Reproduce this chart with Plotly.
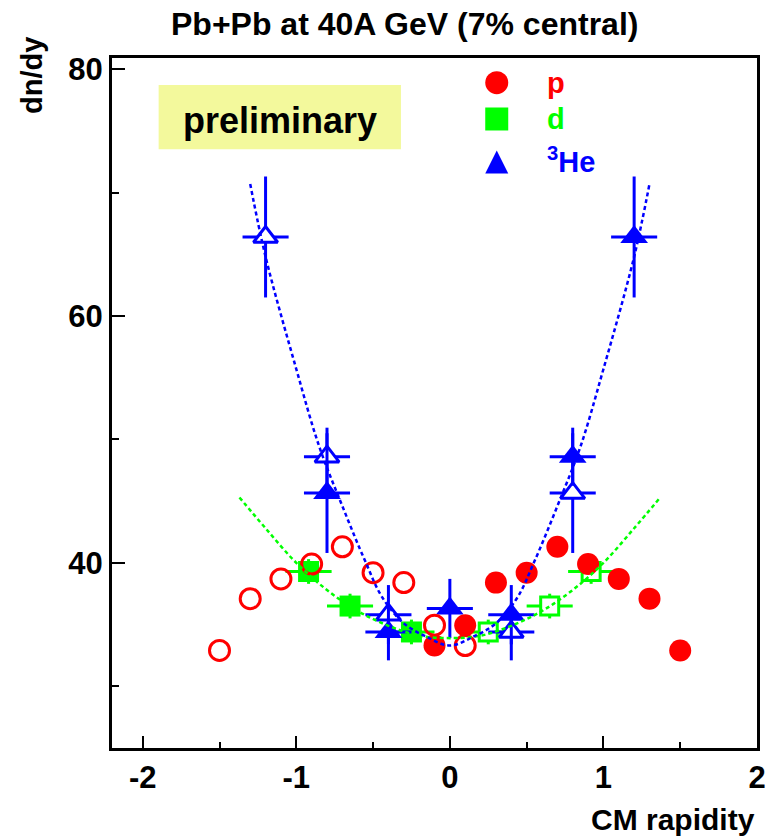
import plotly.graph_objects as go

# ---------------- data ----------------
# protons: measured (filled) and reflected (open)
p_x = [-0.1, 0.1, 0.3, 0.5, 0.7, 0.9, 1.1, 1.3, 1.5]
p_y = [33.3, 34.95, 38.4, 39.2, 41.3, 39.9, 38.7, 37.1, 32.9]
p_open_x = [0.1, -0.1, -0.3, -0.5, -0.7, -0.9, -1.1, -1.3, -1.5]
p_open_y = [33.3, 34.95, 38.4, 39.2, 41.3, 39.9, 38.7, 37.1, 32.9]

# deuterons
d_x = [-0.92, -0.65, -0.25]
d_y = [39.3, 36.5, 34.4]
d_yerr = [1.0, 1.0, 1.0]
d_xerr = [0.15, 0.15, 0.15]
d_open_x = [0.92, 0.65, 0.25]
d_open_y = [39.3, 36.5, 34.4]

# 3He
he_x = [-0.8, -0.4, 0.0, 0.4, 0.8, 1.2]
he_y = [45.65, 34.4, 36.3, 35.8, 48.6, 66.4]
he_yerr = [4.85, 2.3, 2.4, 2.4, 2.35, 4.9]
he_xerr = [0.15, 0.15, 0.15, 0.15, 0.15, 0.15]
he_open_x = [0.8, 0.4, -0.4, -0.8, -1.2]
he_open_y = [45.65, 34.4, 35.8, 48.6, 66.4]
he_open_yerr = [4.85, 2.3, 2.4, 2.35, 4.9]
he_open_xerr = [0.15, 0.15, 0.15, 0.15, 0.15]

# fit curves
dfit_x = [-1.37, -1.2, -1.0, -0.8, -0.6, -0.4, -0.2, 0.0, 0.2, 0.4, 0.6, 0.8, 1.0, 1.2, 1.37]
dfit_y = [45.3, 42.8, 40.0, 37.8, 36.1, 34.9, 34.1, 33.9, 34.1, 34.9, 36.1, 37.8, 40.0, 42.8, 45.3]
hefit_x = [-1.3, -1.2, -1.0, -0.85, -0.7, -0.55, -0.44, -0.3, -0.15, 0.0,
           0.15, 0.3, 0.44, 0.55, 0.7, 0.85, 1.0, 1.2, 1.3]
hefit_y = [70.7, 64.8, 55.7, 49.4, 44.6, 40.1, 37.2, 35.1, 34.0, 33.3,
           34.0, 35.1, 37.2, 40.1, 44.6, 49.4, 55.7, 64.8, 70.7]

x_ticks = [-2, -1, 0, 1, 2]
y_ticks = [40, 60, 80]

RED = "#ff0000"
GREEN = "#00ff00"
BLUE = "#0000ff"
FONT = "Liberation Sans, Arial, sans-serif"

fig = go.Figure()

# deuterons
fig.add_trace(go.Scatter(
    x=d_open_x, y=d_open_y, mode="markers",
    error_y=dict(type="data", array=d_yerr, color=GREEN, thickness=3, width=0),
    error_x=dict(type="data", array=d_xerr, color=GREEN, thickness=3, width=0),
    marker=dict(symbol="square", size=18, color="white", line=dict(color=GREEN, width=3)),
    showlegend=False, hoverinfo="skip"))
fig.add_trace(go.Scatter(
    x=d_x, y=d_y, mode="markers",
    error_y=dict(type="data", array=d_yerr, color=GREEN, thickness=3, width=0),
    error_x=dict(type="data", array=d_xerr, color=GREEN, thickness=3, width=0),
    marker=dict(symbol="square", size=21, color=GREEN),
    showlegend=False, hoverinfo="skip"))

# 3He
fig.add_trace(go.Scatter(
    x=he_open_x, y=he_open_y, mode="markers",
    error_y=dict(type="data", array=he_open_yerr, color=BLUE, thickness=3, width=0),
    error_x=dict(type="data", array=he_open_xerr, color=BLUE, thickness=3, width=0),
    marker=dict(symbol="triangle-up", size=21, color="white", line=dict(color=BLUE, width=3)),
    showlegend=False, hoverinfo="skip"))
fig.add_trace(go.Scatter(
    x=he_x, y=he_y, mode="markers",
    error_y=dict(type="data", array=he_yerr, color=BLUE, thickness=3, width=0),
    error_x=dict(type="data", array=he_xerr, color=BLUE, thickness=3, width=0),
    marker=dict(symbol="triangle-up", size=24, color=BLUE),
    showlegend=False, hoverinfo="skip"))

# protons
fig.add_trace(go.Scatter(
    x=p_open_x, y=p_open_y, mode="markers",
    marker=dict(symbol="circle-open", size=20, color=RED, line=dict(color=RED, width=3)),
    showlegend=False, hoverinfo="skip"))
fig.add_trace(go.Scatter(
    x=p_x, y=p_y, mode="markers",
    marker=dict(symbol="circle", size=22, color=RED),
    showlegend=False, hoverinfo="skip"))

# fits
fig.add_trace(go.Scatter(
    x=dfit_x, y=dfit_y, mode="lines", line=dict(color=GREEN, width=2.5, dash="4px,3px", shape="spline"),
    showlegend=False, hoverinfo="skip"))
fig.add_trace(go.Scatter(
    x=hefit_x, y=hefit_y, mode="lines", line=dict(color=BLUE, width=2.5, dash="4px,3px", shape="spline"),
    showlegend=False, hoverinfo="skip"))

axis_common = dict(
    showline=True, linecolor="black", linewidth=3, mirror=True,
    ticks="inside", tickcolor="black", tickwidth=2,
    showgrid=False, zeroline=False,
    tickfont=dict(family=FONT, size=31, color="black", weight="bold"),
)

fig.update_xaxes(range=[-2.2, 2.0], tickvals=x_ticks, ticktext=[str(v) for v in x_ticks],
                 ticklen=12,
                 minor=dict(ticks="inside", dtick=0.5, ticklen=6, tickwidth=2, tickcolor="black"),
                 **axis_common)
fig.update_yaxes(range=[25, 80.9], tickvals=y_ticks, ticktext=[str(v) for v in y_ticks],
                 ticklen=13,
                 minor=dict(ticks="inside", dtick=10, ticklen=7, tickwidth=2, tickcolor="black"),
                 **axis_common)

shapes = [
    dict(type="rect", xref="paper", yref="paper", x0=0.0723, x1=0.448, y0=0.8677, y1=0.961,
         fillcolor="#f3f99c", line=dict(width=0), layer="below"),
    # legend symbols
    dict(type="circle", xref="paper", yref="paper", xsizemode="pixel", ysizemode="pixel",
         xanchor=0.5965, yanchor=0.9642, x0=-11.5, x1=11.5, y0=-11.5, y1=11.5,
         fillcolor=RED, line=dict(width=0)),
    dict(type="rect", xref="paper", yref="paper", xsizemode="pixel", ysizemode="pixel",
         xanchor=0.5965, yanchor=0.9116, x0=-11.5, x1=11.5, y0=-11.5, y1=11.5,
         fillcolor=GREEN, line=dict(width=0)),
    dict(type="path", xref="paper", yref="paper", xsizemode="pixel", ysizemode="pixel",
         xanchor=0.5965, yanchor=0.8493, path="M -11.5 -11.5 L 11.5 -11.5 L 0 11.5 Z",
         fillcolor=BLUE, line=dict(width=0)),
]

def ann(text, x, y, size, color="black", xanchor="center", yanchor="middle", angle=0, xref="paper"):
    return dict(text=text, x=x, y=y, xref=xref, yref="paper", showarrow=False,
                xanchor=xanchor, yanchor=yanchor, textangle=angle,
                font=dict(family=FONT, size=size, color=color, weight="bold"))

annotations = [
    ann("Pb+Pb at 40A GeV (7% central)", 0.453, 1.049, 32),
    ann("preliminary", 0.2606, 0.910, 36),
    ann("dn/dy", -0.124, 0.974, 29, angle=-90),
    ann("CM rapidity", 1.0, -0.104, 30, xanchor="right"),
    ann("p", 0.6706, 0.964, 29, color=RED, xanchor="left"),
    ann("d", 0.6706, 0.911, 29, color=GREEN, xanchor="left"),
    ann("<sup>3</sup>He", 0.6706, 0.852, 29, color=BLUE, xanchor="left"),
]

fig.update_layout(
    width=778, height=836,
    margin=dict(l=112, r=17, t=58, b=88),
    paper_bgcolor="white", plot_bgcolor="white",
    shapes=shapes, annotations=annotations,
    showlegend=False,
)

fig.write_html("out.html",
               config={"displayModeBar": False},
               post_script="document.body.style.margin='0';document.body.style.padding='0';")
